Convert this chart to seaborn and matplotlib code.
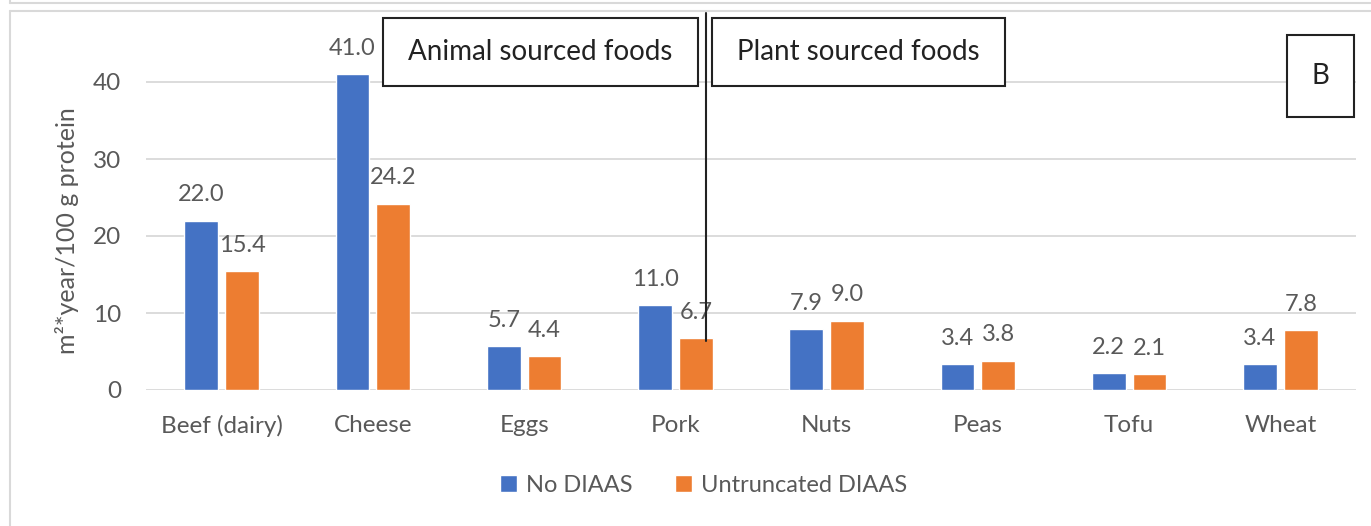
import matplotlib
matplotlib.use("Agg")
import matplotlib.pyplot as plt
from matplotlib.patches import Rectangle
from matplotlib.lines import Line2D
import seaborn as sns
import pandas as pd

# Land use per 100 g protein, with and without DIAAS correction
foods = ["Beef (dairy)", "Cheese", "Eggs", "Pork", "Nuts", "Peas", "Tofu", "Wheat"]
no_diaas = [22.0, 41.0, 5.7, 11.0, 7.9, 3.4, 2.2, 3.4]
untruncated_diaas = [15.4, 24.2, 4.4, 6.7, 9.0, 3.8, 2.1, 7.8]
series_names = ["No DIAAS", "Untruncated DIAAS"]
y_ticks = [0, 10, 20, 30, 40]

BLUE = "#4472C4"
ORANGE = "#ED7D31"
TEXT = "#595959"
GRID = "#D9D9D9"

df = pd.DataFrame({
    "food": foods * 2,
    "value": no_diaas + untruncated_diaas,
    "series": [series_names[0]] * len(foods) + [series_names[1]] * len(foods),
})

sns.set_theme(style="white")
plt.rcParams["font.family"] = ["Lato", "DejaVu Sans"]

W, H = 1371, 526
fig = plt.figure(figsize=(W / 100, H / 100), dpi=100)

def fx(px):
    return px / W

def fy(py):
    return 1 - py / H

ax_left, ax_right, y0_px = 146, 1356, 390
px_per_unit = 7.7
ymax = 44
ax_top = y0_px - ymax * px_per_unit
ax = fig.add_axes([fx(ax_left), fy(y0_px), fx(ax_right - ax_left), (y0_px - ax_top) / H])

sns.barplot(data=df, x="food", y="value", hue="series", order=foods,
            hue_order=series_names, palette=[BLUE, ORANGE], width=0.54, gap=0.17,
            saturation=1, ax=ax, legend=False, errorbar=None)

ax.set_ylim(0, ymax)
ax.set_xlim(-0.5, len(foods) - 0.5)
ax.set_yticks(y_ticks)
ax.yaxis.grid(True, color=GRID, linewidth=1.3)
ax.xaxis.grid(False)
ax.set_axisbelow(True)
for s in ax.spines.values():
    s.set_visible(False)
ax.tick_params(axis="y", length=0, pad=18, labelsize=17.5, labelcolor=TEXT)
ax.tick_params(axis="x", length=0, pad=18, labelsize=17.5, labelcolor=TEXT)
ax.set_xlabel("")
ax.set_ylabel("m²*year/100 g protein", fontsize=18, color=TEXT)
ax.yaxis.set_label_coords(-0.055, 0.47)

for cont in ax.containers:
    ax.bar_label(cont, fmt="%.1f", padding=11, fontsize=17, color=TEXT, clip_on=False)

# outer frame
fig.add_artist(Line2D([fx(10), 1], [fy(3), fy(3)], color=GRID, lw=1.5))
fig.add_artist(Line2D([fx(10), fx(10)], [1, fy(3)], color=GRID, lw=1.5))
fig.add_artist(Line2D([fx(10), 1], [fy(11), fy(11)], color=GRID, lw=1.5))
fig.add_artist(Line2D([fx(10), fx(10)], [fy(11), 0], color=GRID, lw=1.5))

# divider between animal and plant foods
fig.add_artist(Line2D([fx(706), fx(706)], [fy(13), fy(341)], color="#222222", lw=1.5))

def boxed_text(x0, y0, x1, y1, label, size=20):
    fig.add_artist(Rectangle((fx(x0), fy(y1)), fx(x1 - x0), (y1 - y0) / H,
                             facecolor="white", edgecolor="#222222", lw=1.5,
                             transform=fig.transFigure))
    fig.text(fx((x0 + x1) / 2), fy((y0 + y1) / 2), label, ha="center", va="center",
             fontsize=size, color="#222222")

boxed_text(383, 18, 698, 86, "Animal sourced foods")
boxed_text(712, 18, 1005, 86, "Plant sourced foods")
boxed_text(1287, 35, 1354, 117, "B")

handles = [Rectangle((0, 0), 1, 1, facecolor=c) for c in (BLUE, ORANGE)]
fig.legend(handles, series_names, loc="center", bbox_to_anchor=(fx(704), fy(485)),
           ncol=2, frameon=False, fontsize=17, labelcolor=TEXT,
           handlelength=0.7, handleheight=0.7, handletextpad=0.4, columnspacing=1.8)

fig.savefig("out.png", dpi=100)
